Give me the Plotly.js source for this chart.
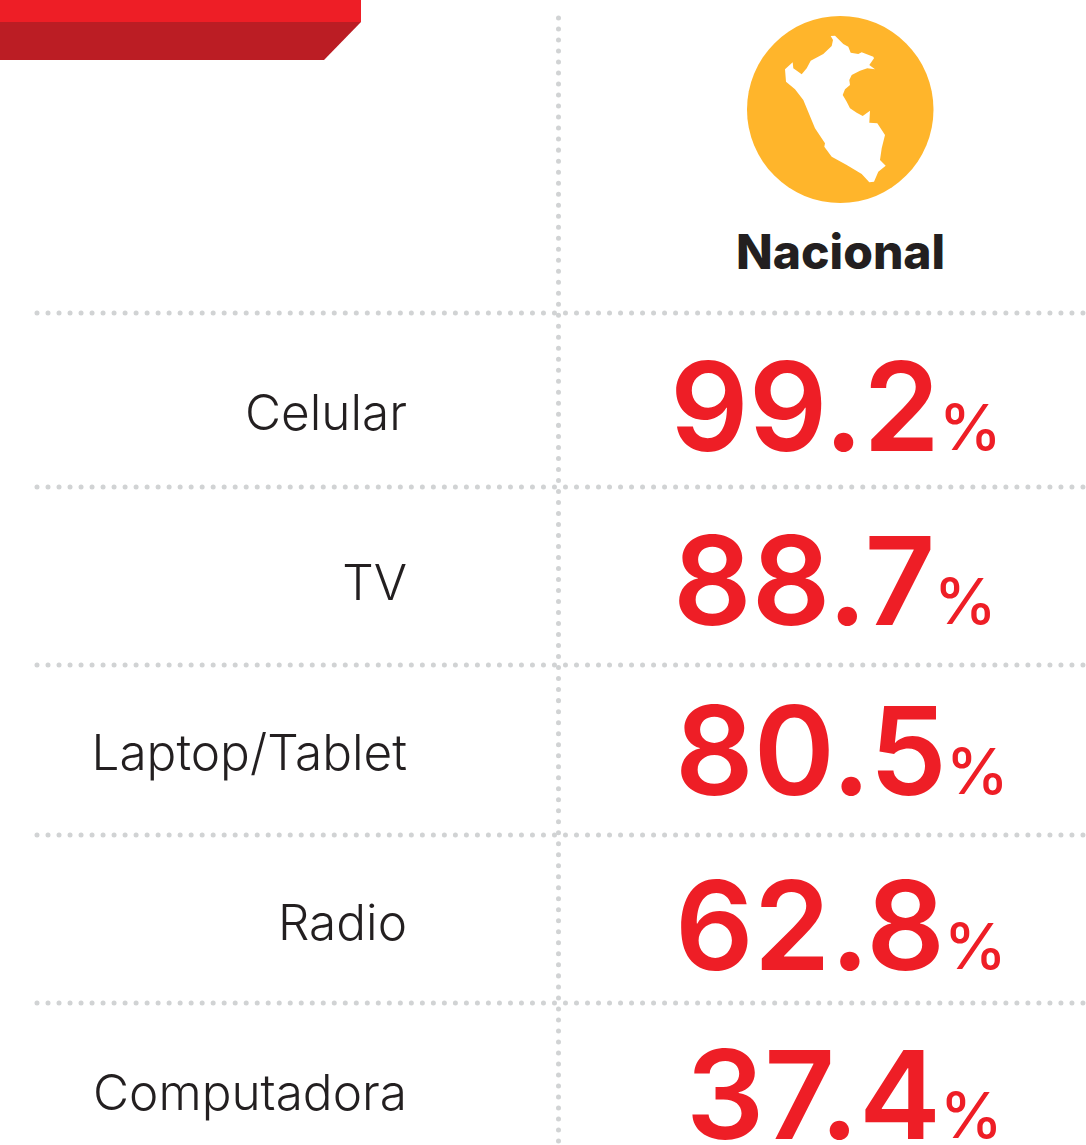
<!DOCTYPE html>
<html><head><meta charset="utf-8">
<script src="https://cdn.plot.ly/plotly-3.0.1.min.js"></script>
<style>html,body{margin:0;padding:0;background:#fff;overflow:hidden}#chart{width:1086px;height:1145px}</style>
</head><body><div id="chart"></div>
<script>
const categories = ["Celular","TV","Laptop/Tablet","Radio","Computadora"];
const values = [99.2,88.7,80.5,62.8,37.4];
const columnTitle = "Nacional";
const unit = "%";

// Layout helpers (pixels)
const valueRightEdge = [941,936,948,946,942];
const valueShift = [12,8,8,3,4];
const separators = [313,487,665,835,1003];
const peruOutline = [[830.7,36],[835,35.7],[839.3,40],[843.3,44],[848.3,46.7],[850.7,52.7],[858.3,54],[861.7,52.3],[873.3,56.7],[874,58.3],[869.3,65],[875,69.3],[867.3,68.3],[860,70.7],[851.7,75],[849.3,80],[850,85],[845,89.3],[842.7,95],[846.7,101.7],[850,108.3],[856.7,112.7],[862.7,116],[870,110.7],[869.3,122.7],[877.3,123.3],[885,135],[881.7,148.3],[880,160],[885.7,165.7],[878.3,171.7],[874,181.7],[869.3,182.3],[861.7,174],[846.7,165],[831.7,156.7],[824.3,146.7],[825,143.3],[815,128.3],[803.3,100],[795,89.3],[786,81.7],[785,69.3],[792.7,62.3],[793.3,68.3],[801.7,74.3],[806.7,68.3],[810.7,60.7],[823.3,54],[831.7,46],[833,40]];

const RED="#EE1E26", DARK="#BB1D24", INK="#231F20", DOT="#D1D3D4", GOLD="#FFB52B";
const FONT="Inter, 'Noto Sans', sans-serif";

const dot = {color:DOT,width:5,dash:"0.01px,11px"};
const shapes = [
 {type:"rect",x0:0,x1:361,y0:0,y1:22,fillcolor:RED,line:{width:0},yref:"y2"},
 {type:"path",path:"M0,22 L361,22 L324,60 L0,60 Z",fillcolor:DARK,line:{width:0},yref:"y2"},
 {type:"circle",x0:747,x1:933.5,y0:16,y1:203,fillcolor:GOLD,line:{width:0},yref:"y2"},
 {type:"path",path:"M"+peruOutline.map(p=>p[0]+","+p[1]).join(" L")+" Z",fillcolor:"#fff",line:{width:0},yref:"y2"},
 {type:"line",x0:558.5,x1:558.5,y0:18,y1:1145,line:dot,yref:"y2"}
].concat(separators.map(y=>({type:"line",x0:37,x1:1086,y0:y,y1:y,line:dot,yref:"y2"})));

const annotations = [{x:840,y:251,xref:"x",yref:"y2",text:columnTitle,showarrow:false,xanchor:"center",yanchor:"middle",
  font:{family:FONT,size:48,color:INK,weight:800}}];
values.forEach((v,i)=>{
  annotations.push({x:valueRightEdge[i],y:categories[i],xref:"x",yref:"y",text:v.toFixed(1),showarrow:false,xanchor:"right",yanchor:"middle",yshift:valueShift[i],borderpad:0,height:100,
    font:{family:FONT,size:123,color:RED,weight:600}});
  annotations.push({x:valueRightEdge[i]-3,y:categories[i],xref:"x",yref:"y",text:unit,showarrow:false,xanchor:"left",yanchor:"middle",yshift:valueShift[i]-21,borderpad:0,height:54,
    font:{family:FONT,size:63,color:RED,weight:500}});
});

const traces = [{
  type:"scatter",mode:"text",x:categories.map(()=>407),y:categories,text:categories,
  textposition:"middle left",textfont:{family:FONT,size:49.5,color:INK,weight:300},hoverinfo:"skip",showlegend:false,cliponaxis:false
},{
  type:"scatter",mode:"none",x:[0,1086],y:[0,1145],yaxis:"y2",xaxis:"x",hoverinfo:"skip",showlegend:false
}];

const layout = {
  width:1086,height:1145,margin:{l:0,r:0,t:0,b:0,pad:0},paper_bgcolor:"#fff",plot_bgcolor:"#fff",showlegend:false,
  xaxis:{range:[0,1086],visible:false,fixedrange:true},
  yaxis:{type:"category",categoryorder:"array",categoryarray:categories,range:[727/170,-418/170],visible:false,fixedrange:true},
  yaxis2:{overlaying:"y",range:[1145,0],visible:false,fixedrange:true},
  shapes,annotations
};
Plotly.newPlot("chart",traces,layout,{displayModeBar:false,staticPlot:true}).then(()=>{
  document.querySelectorAll(".shapelayer path").forEach(p=>{if(p.style.strokeDasharray&&p.style.strokeDasharray!=="none")p.style.strokeLinecap="round";});
});
</script></body></html>
